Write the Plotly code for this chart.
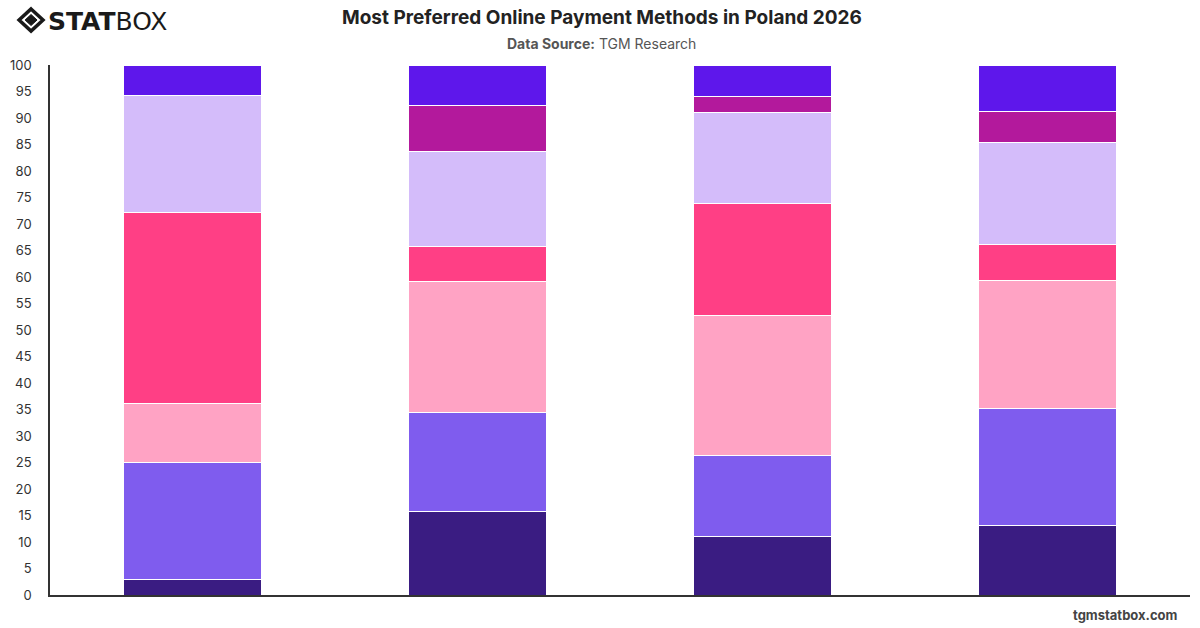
import plotly.graph_objects as go

categories = ["Gen Z", "Millennials", "Gen X", "Baby Boomers"]
series_names = ["Cash on Delivery", "Cards", "Bank Transfer", "BLIK", "Pay-by-link", "BNPL", "Digital Wallets"]
series_colors = ["#3A1C82", "#7F5CEE", "#FFA3C4", "#FF3F85", "#D4BCFA", "#B3199C", "#5E17EB"]
values = {
    "Cash on Delivery": [3.0, 15.8, 11.1, 13.2],
    "Cards":            [22.0, 18.7, 15.3, 21.9],
    "Bank Transfer":    [11.2, 24.6, 26.3, 24.2],
    "BLIK":             [36.0, 6.7, 21.2, 6.8],
    "Pay-by-link":      [22.1, 17.8, 17.2, 19.2],
    "BNPL":             [0.0, 8.8, 3.0, 5.9],
    "Digital Wallets":  [5.7, 7.6, 5.9, 8.8],
}
y_ticks = list(range(0, 101, 5))

W, H = 1200, 628
ML, MR, MT, MB = 47, 10, 65, 33
PW, PH = W - ML - MR, H - MT - MB

def px(x):
    return (x - ML) / PW

def py(y):
    return (H - MB - y) / PH

fig = go.Figure()
for name, color in zip(series_names, series_colors):
    fig.add_trace(go.Bar(
        x=categories, y=values[name], name=name,
        marker=dict(color=color, line=dict(color="white", width=1)),
        width=0.485,
    ))

fig.update_layout(
    width=W, height=H,
    margin=dict(l=ML, r=MR, t=MT, b=MB),
    barmode="stack",
    barcornerradius=3,
    showlegend=False,
    plot_bgcolor="white", paper_bgcolor="white",
    font=dict(family="Inter, Roboto, sans-serif", color="#333"),
    xaxis=dict(showticklabels=False, showline=True, linecolor="#333", linewidth=1.5,
               ticks="", showgrid=False, zeroline=False),
    yaxis=dict(range=[0, 100], tickvals=y_ticks, showline=True, linecolor="#333", linewidth=1.5,
               showgrid=False, zeroline=False, ticks="", tickfont=dict(size=13, color="#333"),
               ticklabelstandoff=14),
)

# Title and subtitle
fig.add_annotation(x=px(600), y=py(17), xref="paper", yref="paper", showarrow=False,
                   text="<b>Most Preferred Online Payment Methods in Poland 2026</b>",
                   font=dict(size=19, color="#222"), xanchor="center", yanchor="middle")
fig.add_annotation(x=px(600), y=py(43), xref="paper", yref="paper", showarrow=False,
                   text="<b>Data Source:</b> TGM Research",
                   font=dict(size=14, color="#555"), xanchor="center", yanchor="middle")
# Footer
fig.add_annotation(x=px(1180), y=py(615), xref="paper", yref="paper", showarrow=False,
                   text="<b>tgmstatbox.com</b>",
                   font=dict(size=13, color="#444"), xanchor="right", yanchor="middle")

# Logo
fig.add_annotation(x=px(43), y=py(21), xref="paper", yref="paper", showarrow=False,
                   text="<b>STAT</b>BOX",
                   font=dict(size=25, color="#1a1a1a", family="Arial Black, DejaVu Sans, sans-serif"),
                   xanchor="left", yanchor="middle")
cx, cy = 28, 20
def diamond(hw, hh):
    pts = [(cx, cy - hh), (cx + hw, cy), (cx, cy + hh), (cx - hw, cy)]
    return "M " + " L ".join(f"{px(a)},{py(b)}" for a, b in pts) + " Z"
fig.add_shape(type="path", xref="paper", yref="paper", path=diamond(12, 11),
              line=dict(color="#1a1a1a", width=3.5), fillcolor="rgba(0,0,0,0)")
fig.add_shape(type="path", xref="paper", yref="paper", path=diamond(6, 5.5),
              line=dict(color="#1a1a1a", width=1), fillcolor="#1a1a1a")

fig.write_html("out.html")
